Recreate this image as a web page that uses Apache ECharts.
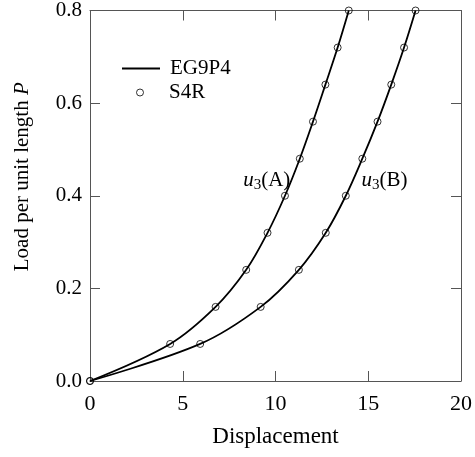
<!DOCTYPE html>
<html>
<head>
<meta charset="utf-8">
<script src="https://cdn.jsdelivr.net/npm/echarts@6/dist/echarts.min.js"></script>
<style>
  html, body { margin: 0; padding: 0; background: #fff; }
  #chart { width: 475px; height: 457px; }
</style>
</head>
<body>
<div id="chart"></div>
<script>
// load levels (same for both curves)
var loadLevels = [0, 0.08, 0.16, 0.24, 0.32, 0.40, 0.48, 0.56, 0.64, 0.72, 0.80];
// displacement u3 at point A and B
var dispA = [0, 4.32, 6.77, 8.42, 9.57, 10.51, 11.31, 12.02, 12.69, 13.35, 13.95];
var dispB = [0, 5.94, 9.20, 11.26, 12.71, 13.79, 14.68, 15.50, 16.24, 16.93, 17.55];
var xTicks = [0, 5, 10, 15, 20];
var yTicks = [0, 0.2, 0.4, 0.6, 0.8];

var fontFam = '"Liberation Serif", "DejaVu Serif", serif';

function pairs(xs, ys) {
  return xs.map(function (x, i) { return [x, ys[i]]; });
}

var chart = echarts.init(document.getElementById('chart'));

var axisLine = { show: true, onZero: false, lineStyle: { color: '#555', width: 1 } };
var axisTick = { show: true, inside: true, length: 10, lineStyle: { color: '#555', width: 1 } };

var curveLabel = function (name, side) {
  return {
    show: true,
    position: side,
    distance: 0,
    formatter: '{i|u}{s|3}{n|(' + name + ')}',
    rich: {
      i: { fontFamily: fontFam, fontSize: 21, fontStyle: 'italic', color: '#000' },
      s: { fontFamily: fontFam, fontSize: 15, color: '#000', padding: [9, 0, 0, 0] },
      n: { fontFamily: fontFam, fontSize: 21, color: '#000' }
    }
  };
};

var legendText = { fontFamily: fontFam, fontSize: 21, color: '#000', padding: [0, 0, 0, 5] };

chart.setOption({
  animation: false,
  grid: { left: 90, right: 9, top: 6, bottom: 76 },
  legend: [{
    left: 122, top: 58, padding: 0,
    itemWidth: 38, itemHeight: 2,
    textStyle: legendText,
    data: [{ name: 'EG9P4', icon: 'rect' }]
  }, {
    left: 136, top: 82, padding: 0,
    itemWidth: 38, itemHeight: 7,
    textStyle: legendText,
    itemStyle: { color: 'rgba(255,255,255,0)', borderColor: '#000', borderWidth: 1 },
    data: [{ name: 'S4R', icon: 'circle' }]
  }],
  xAxis: [{
    type: 'value', min: 0, max: 20, interval: 5,
    axisLine: axisLine, axisTick: axisTick, splitLine: { show: false },
    axisLabel: { fontFamily: fontFam, fontSize: 22, color: '#000', margin: 12,
      formatter: function (v) { return xTicks.indexOf(v) >= 0 ? String(v) : ''; } },
    name: 'Displacement', nameLocation: 'middle', nameGap: 44,
    nameTextStyle: { fontFamily: fontFam, fontSize: 23, color: '#000' }
  }, {
    type: 'value', position: 'top', min: 0, max: 20, interval: 5,
    axisLine: axisLine, axisTick: axisTick, axisLabel: { show: false }, splitLine: { show: false }
  }],
  yAxis: [{
    type: 'value', min: 0, max: 0.8, interval: 0.2,
    axisLine: axisLine, axisTick: axisTick, splitLine: { show: false },
    axisLabel: { fontFamily: fontFam, fontSize: 21, color: '#000', margin: 8,
      formatter: function (v) { return v.toFixed(1); } }
  }, {
    type: 'value', position: 'right', min: 0, max: 0.8, interval: 0.2,
    axisLine: axisLine, axisTick: axisTick, axisLabel: { show: false }, splitLine: { show: false }
  }],
  series: [{
    name: 'EG9P4', type: 'line', smooth: 0.35, symbol: 'none',
    lineStyle: { color: '#000', width: 1.8 }, itemStyle: { color: '#000' },
    data: pairs(dispA, loadLevels),
    markPoint: {
      symbol: 'circle', symbolSize: 0,
      data: [
        { coord: [10.8, 0.433], label: curveLabel('A', 'left') },
        { coord: [14.63, 0.433], label: curveLabel('B', 'right') }
      ]
    }
  }, {
    name: 'EG9P4', type: 'line', smooth: 0.35, symbol: 'none',
    lineStyle: { color: '#000', width: 1.8 }, itemStyle: { color: '#000' },
    data: pairs(dispB, loadLevels)
  }, {
    name: 'S4R', type: 'scatter', symbol: 'circle', symbolSize: 7, z: 5,
    itemStyle: { color: 'rgba(255,255,255,0)', borderColor: '#000', borderWidth: 1 },
    data: pairs(dispA, loadLevels).concat(pairs(dispB, loadLevels))
  }]
});

// y axis title, rotated (rich text keeps the italic P)
var midY = chart.convertToPixel({ yAxisIndex: 0 }, 0.4);
chart.setOption({
  graphic: [{
    type: 'text',
    x: 22, y: midY - 19,
    rotation: Math.PI / 2,
    style: {
      text: '{n|Load per unit length }{p|P}',
      align: 'center', verticalAlign: 'middle',
      rich: {
        n: { fontFamily: fontFam, fontSize: 21, fill: '#000' },
        p: { fontFamily: fontFam, fontSize: 21, fontStyle: 'italic', fill: '#000' }
      }
    }
  }]
});
</script>
</body>
</html>
